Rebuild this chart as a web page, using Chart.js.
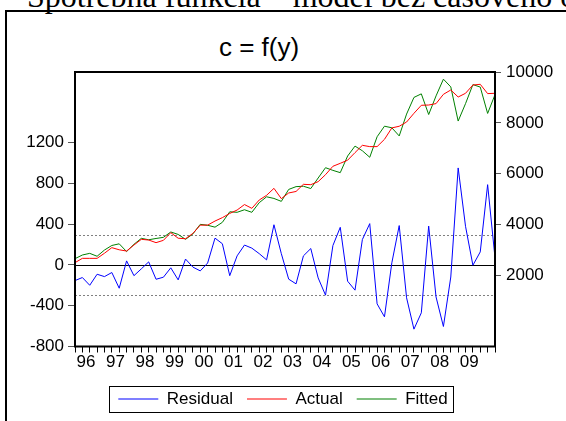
<!DOCTYPE html>
<html>
<head>
<meta charset="utf-8">
<script src="https://cdn.jsdelivr.net/npm/chart.js@4.4.0/dist/chart.umd.min.js"></script>
<style>
  html, body { margin: 0; padding: 0; background: #fff; }
  #page { position: relative; width: 566px; height: 421px; overflow: hidden; }
  #doc-line { position: absolute; left: 27px; top: -19px; font-size: 32px; line-height: 31px;
    font-family: "Liberation Serif", "Times New Roman", serif; white-space: nowrap; color: #000; }
  #frame { position: absolute; left: 5px; top: 10px; width: 700px; height: 600px; border: 2px solid #000; }
  #heading { position: absolute; left: 0; top: 34px; width: 518px; text-align: center; font-size: 26px;
    line-height: 26px; font-family: "Liberation Sans", Arial, sans-serif; color: #000; }
  #chart { position: absolute; left: 0; top: 0; }
</style>
</head>
<body>
<div id="page">
  <div id="doc-line">Spotrebná funkcia – model bez časového oneskorenia</div>
  <div id="frame"></div>
  <div id="heading">c = f(y)</div>
  <canvas id="chart" width="566" height="421"></canvas>
</div>
<script>
// quarterly observations 1996Q1 .. 2010Q2
const quarters = [];
for (let y = 1996; quarters.length < 58; y++) {
  for (let q = 1; q <= 4 && quarters.length < 58; q++) quarters.push(y + 'Q' + q);
}

const residual = [-154, -124, -200, -92, -115, -75, -229, 39, -106, -39,
  29, -141, -121, -29, -147, 57, -22, -59, 18, 262,
  207, -106, 88, 194, 164, 110, 49, 393, 110, -140,
  -186, 88, 160, -128, -297, 189, 368, -160, -248, 248,
  404, -382, -509, 20, 385, -323, -630, -470, 380, -315,
  -604, -119, 950, 378, -4, 127, 786, 69];

const actual = [2499, 2668, 2668, 2668, 2870, 3089, 3005, 2956, 3192, 3416,
  3389, 3286, 3377, 3680, 3460, 3440, 3650, 3975, 3975, 4136,
  4270, 4435, 4569, 4785, 4636, 4963, 5148, 5423, 5018, 5240,
  5300, 5580, 5567, 5686, 5960, 6290, 6407, 6530, 6828, 7115,
  7064, 7064, 7351, 7800, 7865, 8032, 8375, 8690, 8701, 8756,
  9122, 9292, 9016, 9162, 9488, 9516, 9150, 9162];

const fitted = [2655, 2800, 2865, 2750, 2995, 3175, 3240, 2935, 3220, 3455,
  3400, 3450, 3495, 3705, 3610, 3416, 3630, 4006, 3970, 3895,
  4085, 4500, 4480, 4580, 4480, 4858, 5090, 5025, 4910, 5380,
  5490, 5505, 5415, 5830, 6235, 6130, 6040, 6695, 7085, 6900,
  6645, 7452, 7868, 7805, 7485, 8345, 9000, 9140, 8327, 9060,
  9718, 9414, 8070, 8755, 9505, 9407, 8370, 9108];

const leftTicks = [-800, -400, 0, 400, 800, 1200];
const rightTicks = [2000, 4000, 6000, 8000, 10000];
// +/- one standard error of the regression, and zero
const bandLines = [297, -297];
const zeroLine = 0;

Chart.defaults.font.family = '"Liberation Sans", Arial, sans-serif';
Chart.defaults.font.size = 17;
Chart.defaults.color = '#000';

const plotDecor = {
  id: 'plotDecor',
  beforeDatasetsDraw(chart) {
    const {ctx, chartArea: a, scales: {y}} = chart;
    ctx.save();
    ctx.lineWidth = 1;
    ctx.strokeStyle = '#808080';
    ctx.setLineDash([2, 2]);
    bandLines.forEach(v => {
      const py = Math.round(y.getPixelForValue(v)) + 0.5;
      ctx.beginPath(); ctx.moveTo(a.left, py); ctx.lineTo(a.right, py); ctx.stroke();
    });
    ctx.setLineDash([]);
    ctx.strokeStyle = '#000';
    const pz = Math.round(y.getPixelForValue(zeroLine)) + 0.5;
    ctx.beginPath(); ctx.moveTo(a.left, pz); ctx.lineTo(a.right, pz); ctx.stroke();
    ctx.restore();
  },
  afterDraw(chart) {
    const {ctx, chartArea: a, legend} = chart;
    ctx.save();
    ctx.strokeStyle = '#000';
    ctx.lineWidth = 2;
    ctx.strokeRect(a.left, a.top, a.right - a.left, a.bottom - a.top);
    // box round the legend
    const hb = legend.legendHitBoxes;
    if (hb && hb.length) {
      const first = hb[0], last = hb[hb.length - 1];
      const x0 = first.left - 9, x1 = last.left + last.width + 6;
      const y0 = first.top - 4.5, y1 = first.top + first.height + 4.5;
      ctx.lineWidth = 1;
      ctx.strokeRect(Math.round(x0) + 0.5, Math.round(y0) + 0.5, Math.round(x1 - x0), Math.round(y1 - y0));
    }
    ctx.restore();
  }
};

const line = (label, data, color, axis) => ({
  label, data, yAxisID: axis,
  borderColor: color, backgroundColor: color,
  borderWidth: 1, pointRadius: 0, tension: 0, fill: false
});

new Chart(document.getElementById('chart'), {
  type: 'line',
  data: {
    labels: quarters,
    datasets: [
      line('Residual', residual, '#0000ff', 'y'),
      line('Actual', actual, '#ff0000', 'y1'),
      line('Fitted', fitted, '#008000', 'y1')
    ]
  },
  options: {
    responsive: false,
    animation: false,
    devicePixelRatio: 1,
    layout: { padding: { top: 72, left: 0, right: 0, bottom: 3.5 } },
    plugins: {
      title: { display: false },
      tooltip: { enabled: false },
      legend: {
        position: 'bottom',
        labels: {
          boxWidth: 40, boxHeight: 1, padding: 14, color: '#000',
          font: { size: 17 },
          generateLabels(chart) {
            return chart.data.datasets.map((ds, i) => ({
              text: ds.label,
              datasetIndex: i,
              fillStyle: ds.borderColor,
              strokeStyle: ds.borderColor,
              lineWidth: 0,
              hidden: false
            }));
          }
        }
      }
    },
    scales: {
      x: {
        type: 'category',
        offset: false,
        border: { display: false },
        grid: { drawOnChartArea: false, offset: false, tickLength: 6, tickColor: '#000' },
        ticks: {
          autoSkip: false, maxRotation: 0, minRotation: 0,
          labelOffset: 3.7, padding: 0,
          // year label in the middle of each complete year
          callback(v, i) {
            const q = quarters[i];
            return q.endsWith('Q2') && i + 3 < quarters.length ? q.slice(2, 4) : '';
          }
        },
        afterFit(s) { s.height = 30; }
      },
      y: {
        position: 'left',
        min: -800, max: 1890,
        border: { display: false },
        grid: { drawOnChartArea: false, tickLength: 7, tickColor: '#555' },
        ticks: { padding: 4, callback: v => String(v) },
        afterBuildTicks(s) { s.ticks = leftTicks.map(v => ({ value: v })); },
        afterFit(s) { s.width = 75; }
      },
      y1: {
        position: 'right',
        min: -800, max: 10000,
        border: { display: false },
        grid: { drawOnChartArea: false, tickLength: 6, tickColor: '#555' },
        ticks: { padding: 5, callback: v => String(v) },
        afterBuildTicks(s) { s.ticks = rightTicks.map(v => ({ value: v })); },
        afterFit(s) { s.width = 71; }
      }
    }
  },
  plugins: [plotDecor]
});
</script>
</body>
</html>
